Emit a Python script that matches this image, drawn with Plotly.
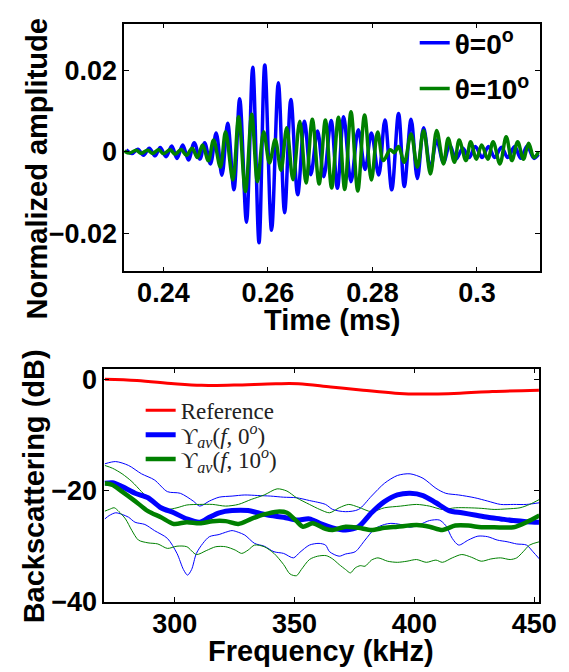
import plotly.graph_objects as go

# ---------------- top panel: time signals (extrema) -------------
t_blue = [0.2329, 0.2340, 0.2351, 0.2362, 0.2373, 0.2384, 0.2394, 0.2405, 0.2416, 0.2426,
          0.2437, 0.2448, 0.2459, 0.2470, 0.2479, 0.2490, 0.2501, 0.2512, 0.2523, 0.2535,
          0.2546, 0.2559, 0.2571, 0.2583, 0.2594, 0.2607, 0.2620, 0.2632, 0.2644, 0.2657,
          0.2670, 0.2682, 0.2695, 0.2707, 0.2721, 0.2733, 0.2745, 0.2759, 0.2773, 0.2786,
          0.2798, 0.2812, 0.2824, 0.2837, 0.2850, 0.2861, 0.2874, 0.2886, 0.2898, 0.2911,
          0.2923, 0.2936, 0.2948, 0.2960, 0.2973, 0.2985, 0.2997, 0.3010, 0.3022, 0.3034,
          0.3047, 0.3059, 0.3072, 0.3084, 0.3096, 0.3109, 0.3118]
amp_blue_e3 = [0.5, -0.42, 0.66, -0.82, 0.9, -0.98, 1.06, -1.22, 1.45, -1.61,
               1.69, -2.01, 2.25, -1.77, 2.25, -2.96, 4.63, -5.74, 7.0, -9.3,
               13.0, -17.25, 20.7, -22.25, 21.3, -19.2, 16.9, -14.9, 12.8, -10.5,
               7.5, -5.6, 5.1, -6.1, 7.65, -8.9, 8.6, -7.3, 5.4, -4.3,
               4.6, -5.7, 7.8, -9.3, 9.4, -8.5, 8.0, -6.5, 5.9, -4.15,
               2.9, -2.6, 1.7, -1.8, 0.9, -1.4, 1.3, -1.4, 1.3, -1.4,
               1.15, -1.4, 1.3, -1.6, 1.45, -1.6, -0.6]

t_green = [0.2325, 0.2335, 0.2348, 0.2357, 0.2370, 0.2379, 0.2391, 0.2400, 0.2413, 0.2422,
           0.2434, 0.2444, 0.2455, 0.2465, 0.2475, 0.2486, 0.2496, 0.2509, 0.2519, 0.2533,
           0.2544, 0.2557, 0.2569, 0.2580, 0.2592, 0.2603, 0.2614, 0.2625, 0.2636, 0.2648,
           0.2661, 0.2673, 0.2685, 0.2698, 0.2710, 0.2722, 0.2735, 0.2747, 0.2759, 0.2772,
           0.2785, 0.2798, 0.2810, 0.2821, 0.2834, 0.2842, 0.2850, 0.2861, 0.2874, 0.2886,
           0.2898, 0.2911, 0.2923, 0.2936, 0.2945, 0.2957, 0.2966, 0.2979, 0.2988, 0.2999,
           0.3009, 0.3021, 0.3031, 0.3044, 0.3056, 0.3067, 0.3078, 0.3089, 0.3099, 0.3109,
           0.3118]
amp_green_e3 = [0.2, -0.3, 0.4, -0.35, 0.4, -0.4, 0.5, -0.45, 0.5, -0.6,
                0.55, -0.85, 0.9, -1.4, 1.7, -2.2, 2.9, -3.75, 4.9, -6.9,
                8.6, -9.7, 9.2, -7.3, 4.9, -2.7, 3.0, -4.5, 5.9, -6.85,
                7.5, -7.65, 8.0, -7.9, 7.8, -8.85, 8.45, -9.2, 9.85, -9.6,
                9.05, -6.9, 4.85, -2.15, 0.5, -0.2, 1.3, -2.55, 4.4, -3.75,
                5.25, -5.4, 5.25, -2.95, 3.3, -2.55, 2.9, -2.15, 2.5, -1.8,
                1.7, -1.8, 2.5, -2.95, 3.7, -2.15, 2.5, -1.8, 2.1, -1.4,
                0.0]

time_ticks = [0.24, 0.26, 0.28, 0.3]
time_ticklabels = ["0.24", "0.26", "0.28", "0.3"]
amp_ticks = [-0.02, 0, 0.02]
amp_ticklabels = ["\u22120.02", "0", "0.02"]

# ---------------- bottom panel: backscattering spectra ----------------------------
f_ref = [270.8, 284.2, 299.7, 311.2, 324.7, 342.2, 351.6, 365.1, 378.6, 392.0, 402.8,
         419.0, 432.5, 452.0]
db_ref = [0.0, -0.23, -0.82, -1.11, -1.05, -0.82, -0.82, -1.40, -1.98, -2.51, -2.68,
          -2.51, -2.22, -1.98]

f_mean0 = [270.8, 274.0, 278.0, 283.4, 288.8, 294.2, 299.6, 305.0, 310.4, 314.4, 318.5,
           323.9, 330.6, 334.6, 340.0, 345.4, 350.8, 356.2, 360.5, 365.9, 371.3, 376.7,
           382.1, 387.5, 392.9, 398.2, 403.6, 409.0, 414.4, 419.8, 425.2, 430.6, 436.0,
           441.4, 446.8, 452.2]
db_mean0 = [-18.7, -18.6, -19.3, -20.5, -21.3, -23.1, -24.0, -25.1, -25.7, -24.8, -24.0,
            -23.6, -23.6, -24.0, -24.5, -24.8, -25.3, -25.1, -25.9, -26.7, -27.1, -26.5,
            -24.0, -22.0, -20.8, -20.5, -20.9, -22.2, -23.6, -24.0, -24.4, -24.8, -25.1,
            -25.4, -25.6, -25.7]

f_mean10 = [270.8, 274.0, 278.0, 283.4, 288.8, 294.2, 299.6, 305.0, 310.4, 315.8, 321.2,
            326.5, 331.9, 337.3, 342.7, 346.8, 350.8, 353.5, 357.5, 362.9, 365.9, 371.3,
            376.7, 382.1, 387.5, 392.9, 401.0, 406.3, 411.7, 417.1, 422.5, 427.9, 433.3,
            441.4, 446.8, 452.2]
db_mean10 = [-18.7, -19.0, -20.2, -21.9, -23.7, -24.8, -26.0, -25.7, -25.9, -25.5, -25.5,
             -26.0, -25.1, -24.3, -23.8, -24.0, -25.5, -26.5, -25.9, -26.9, -27.1, -26.5,
             -26.7, -27.1, -26.7, -26.5, -26.2, -26.5, -27.1, -26.3, -26.3, -26.6, -26.6,
             -26.6, -25.7, -24.5]

f_up0 = [270.8, 275.3, 280.7, 286.1, 291.5, 296.9, 302.3, 307.7, 310.4, 314.4, 318.5,
         323.9, 329.2, 334.6, 340.0, 345.4, 350.8, 356.2, 362.9, 365.9, 371.3, 376.7,
         382.1, 387.5, 392.9, 398.2, 403.6, 409.0, 413.1, 418.5, 425.2, 430.6, 436.0,
         441.4, 446.8, 452.2]
db_up0 = [-15.2, -14.8, -15.5, -17.0, -18.1, -20.2, -20.5, -21.9, -22.8, -21.9, -21.2,
          -21.0, -20.8, -20.9, -21.0, -21.2, -21.3, -21.8, -22.5, -23.4, -23.8, -23.4,
          -21.0, -18.7, -17.3, -17.0, -17.8, -19.6, -20.5, -20.8, -21.3, -21.9, -22.5,
          -22.5, -22.5, -22.2]

f_lo0 = [270.8, 272.6, 275.3, 278.0, 280.7, 283.4, 287.5, 291.5, 296.9, 300.9, 303.6,
         305.3, 307.0, 309.0, 311.7, 314.4, 318.5, 321.2, 323.9, 326.5, 329.2, 333.3,
         337.3, 341.4, 345.4, 349.5, 352.2, 356.2, 360.2, 362.9, 364.6, 368.6, 371.3,
         375.3, 379.4, 383.4, 387.5, 390.2, 394.2, 398.2, 402.3, 406.3, 410.4, 413.1,
         415.8, 418.5, 422.5, 426.5, 430.6, 434.6, 438.7, 442.7, 446.8, 449.5, 452.2]
db_lo0 = [-25.1, -24.5, -24.0, -24.3, -24.8, -25.7, -26.1, -27.2, -28.6, -31.3, -34.2,
          -35.2, -34.2, -31.3, -29.5, -28.3, -27.9, -27.5, -27.2, -27.5, -28.0, -29.5,
          -30.0, -31.0, -31.3, -32.1, -31.1, -29.8, -29.5, -29.8, -31.0, -31.8, -31.4,
          -31.0, -28.9, -26.9, -26.1, -25.9, -26.1, -26.6, -26.1, -25.4, -25.3, -26.3,
          -28.6, -29.8, -28.9, -28.2, -28.3, -28.9, -29.2, -29.6, -29.8, -31.0, -32.3]

f_up10 = [270.8, 274.0, 278.0, 282.1, 286.1, 290.2, 294.2, 296.9, 300.9, 305.0, 310.4,
          315.8, 321.2, 326.5, 331.9, 337.3, 342.7, 346.8, 350.8, 356.2, 360.5, 364.6,
          368.6, 372.6, 376.7, 382.1, 387.5, 394.2, 400.9, 406.3, 411.7, 417.1, 422.5,
          427.9, 433.3, 438.7, 444.1, 448.1, 452.2]
db_up10 = [-15.5, -16.0, -17.0, -18.4, -20.2, -21.9, -23.1, -23.4, -23.1, -22.6, -22.5,
           -22.5, -22.8, -22.5, -21.6, -20.8, -19.7, -20.1, -21.3, -22.5, -23.4, -24.0,
           -23.1, -22.5, -23.0, -23.8, -23.1, -22.8, -22.5, -22.8, -23.4, -23.1, -23.1,
           -23.2, -23.4, -23.3, -23.1, -22.5, -21.6]

f_lo10 = [270.8, 272.6, 274.7, 276.7, 279.4, 282.1, 284.8, 288.8, 292.9, 296.9, 300.9,
          305.0, 309.0, 313.1, 317.1, 321.2, 325.2, 327.9, 330.6, 333.3, 337.3, 341.4,
          345.4, 348.1, 350.8, 352.8, 356.2, 359.6, 363.2, 365.9, 368.6, 371.3, 373.3,
          375.3, 377.4, 379.4, 382.1, 384.8, 388.8, 392.9, 396.9, 400.9, 405.0, 409.0,
          411.7, 415.8, 419.8, 423.9, 427.9, 431.9, 436.0, 440.0, 442.7, 445.4, 448.1,
          452.2]
db_lo10 = [-23.7, -23.4, -23.1, -23.8, -25.1, -27.2, -28.9, -29.4, -29.6, -30.4, -30.0,
           -30.1, -31.5, -30.8, -30.1, -30.1, -30.7, -31.3, -30.7, -29.8, -30.1, -31.3,
           -33.3, -35.0, -35.3, -34.2, -32.4, -31.8, -31.7, -32.3, -33.3, -34.2, -34.8,
           -33.9, -33.5, -33.6, -32.5, -32.1, -32.7, -32.9, -32.7, -32.4, -32.9, -32.5,
           -32.9, -32.1, -31.5, -32.0, -32.7, -32.3, -32.1, -32.4, -32.1, -31.0, -29.8,
           -29.2]

freq_ticks = [300, 350, 400, 450]
db_ticks = [-40, -20, 0]
db_ticklabels = ["\u221240", "\u221220", "0"]

BLUE = "#0000FF"
GREEN = "#008000"
RED = "#FF0000"
W, H = 569, 672
SANS = "Liberation Sans, Arial, Helvetica, sans-serif"
SERIF = "Liberation Serif, DejaVu Serif, Times New Roman, serif"

fig = go.Figure()

# top panel
fig.add_trace(go.Scatter(x=t_blue, y=[a / 1000 for a in amp_blue_e3], mode="lines",
                         line=dict(color=BLUE, width=3.5, shape="spline", smoothing=1.0),
                         name="θ=0<sup>o</sup>", legend="legend", xaxis="x", yaxis="y"))
fig.add_trace(go.Scatter(x=t_green, y=[a / 1000 for a in amp_green_e3], mode="lines",
                         line=dict(color=GREEN, width=3.5, shape="spline", smoothing=1.0),
                         name="θ=10<sup>o</sup>", legend="legend2", xaxis="x", yaxis="y"))

# bottom panel thin envelopes
for fx, dy, col in [(f_up0, db_up0, BLUE), (f_lo0, db_lo0, BLUE),
                    (f_up10, db_up10, GREEN), (f_lo10, db_lo10, GREEN)]:
    fig.add_trace(go.Scatter(x=fx, y=dy, mode="lines", showlegend=False,
                             line=dict(color=col, width=1, shape="spline", smoothing=0.8),
                             xaxis="x2", yaxis="y2"))

fig.add_trace(go.Scatter(x=f_ref, y=db_ref, mode="lines", name="Reference", legend="legend3",
                         line=dict(color=RED, width=3, shape="spline", smoothing=1.0),
                         xaxis="x2", yaxis="y2"))
fig.add_trace(go.Scatter(x=f_mean0, y=db_mean0, mode="lines", legend="legend4",
                         name="ϒ<sub><i>av</i></sub>(<i>f</i>, 0<sup><i>o</i></sup>)",
                         line=dict(color=BLUE, width=5, shape="spline", smoothing=0.8),
                         xaxis="x2", yaxis="y2"))
fig.add_trace(go.Scatter(x=f_mean10, y=db_mean10, mode="lines", legend="legend5",
                         name="ϒ<sub><i>av</i></sub>(<i>f</i>, 10<sup><i>o</i></sup>)",
                         line=dict(color=GREEN, width=4.5, shape="spline", smoothing=0.8),
                         xaxis="x2", yaxis="y2"))

tickfont = dict(family=SANS, size=27, color="black", weight="bold")
axis_common = dict(showline=True, linecolor="black", linewidth=1.5, mirror="ticks",
                   ticks="inside", ticklen=5, tickwidth=1, tickcolor="black",
                   showgrid=False, zeroline=False, tickfont=tickfont)


def legend_at(xpx, ypx, font):
    return dict(x=xpx / W, y=1 - ypx / H, xanchor="left", yanchor="middle",
                bgcolor="rgba(0,0,0,0)", borderwidth=0, font=font,
                itemclick=False, itemdoubleclick=False)


top_font = dict(family=SANS, size=28, color="black", weight="bold")
bot_font = dict(family=SERIF, size=23, color="#222222")

fig.update_layout(
    width=W, height=H, margin=dict(l=0, r=0, t=0, b=0),
    paper_bgcolor="white", plot_bgcolor="white",
    xaxis=dict(domain=[120 / W, 549 / W], range=[0.2325, 0.312], anchor="y",
               tickvals=time_ticks, ticktext=time_ticklabels, ticklabelstandoff=-4,
               **axis_common),
    yaxis=dict(domain=[1 - 267 / H, 1 - 12 / H], range=[-0.0293, 0.0314], anchor="x",
               tickvals=amp_ticks, ticktext=amp_ticklabels, **axis_common),
    xaxis2=dict(domain=[99.3 / W, 548.3 / W], range=[270.5, 452], anchor="y2",
                tickvals=freq_ticks, ticklabelstandoff=-3, **axis_common),
    yaxis2=dict(domain=[1 - 607 / H, 1 - 367 / H], range=[-40, 1.9], anchor="x2",
                tickvals=db_ticks, ticktext=db_ticklabels, **axis_common),
    legend=legend_at(420, 32, top_font),
    legend2=legend_at(420, 79, top_font),
    legend3=legend_at(137, 410, bot_font),
    legend4=legend_at(137, 435, bot_font),
    legend5=legend_at(137, 460, bot_font),
    showlegend=True,
)

title_font = dict(family=SANS, size=29, color="black", weight="bold")
annos = [
    dict(text="Normalized amplitude", x=30 / W, y=1 - 162 / H, textangle=-90),
    dict(text="Time (ms)", x=335 / W, y=1 - 317 / H, textangle=0),
    dict(text="Backscattering (dB)", x=27 / W, y=1 - 488 / H, textangle=-90),
    dict(text="Frequency (kHz)", x=323 / W, y=1 - 658 / H, textangle=0),
]
for a in annos:
    fig.add_annotation(xref="paper", yref="paper", xanchor="center", yanchor="middle",
                       showarrow=False, font=title_font, **a)

fig.write_html("out.html")
